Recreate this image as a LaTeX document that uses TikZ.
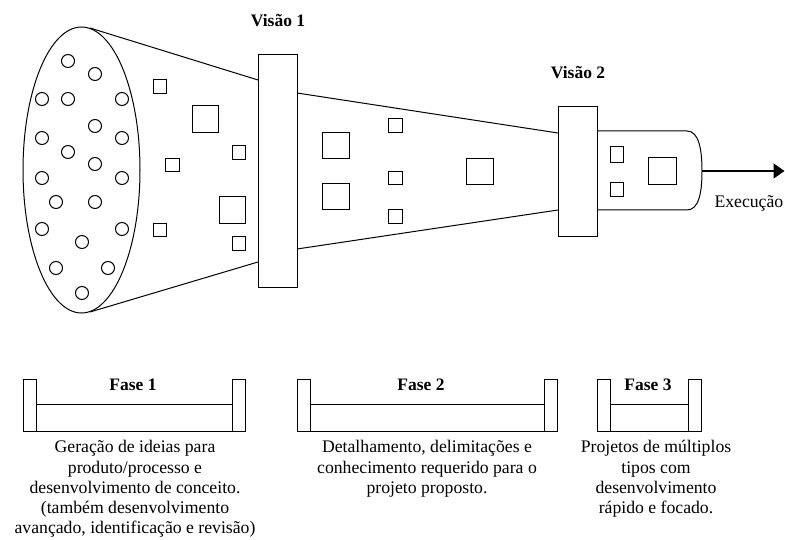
\documentclass[tikz,border=0pt]{standalone}
\usepackage{fontspec}
\setmainfont{Liberation Serif}
\usetikzlibrary{arrows.meta,shapes.geometric}
\begin{document}
\begin{tikzpicture}[x=1pt,y=-1pt,line width=1pt,
  idea/.style={circle,draw,minimum size=13pt,inner sep=0pt},
  sq/.style={rectangle,draw,minimum size=13.5pt,inner sep=0pt},
  bigsq/.style={rectangle,draw,minimum size=26.5pt,inner sep=0pt},
  gate/.style={rectangle,draw,minimum width=39pt,inner sep=0pt},
  post/.style={rectangle,draw,minimum width=13pt,minimum height=52pt,inner sep=0pt},
  phasebar/.style={rectangle,draw,minimum height=27pt,inner sep=0pt},
  ttl/.style={font=\bfseries\fontsize{17.5}{20}\selectfont,inner sep=0pt},
  desc/.style={font=\fontsize{17.7}{20.3}\selectfont,align=center,inner sep=0pt},
  cone/.style={draw,line width=1pt}]
\useasboundingbox (0,0) rectangle (785,540);
% mouth of the funnel
\node[ellipse,draw,minimum width=117pt,minimum height=286pt,inner sep=0pt] (mouth) at (81.5,170) {};
% gates
\node[gate,minimum height=233pt] (v1) at (277.5,171.5) {};
\node[gate,minimum height=130pt] (v2) at (577.5,172) {};
% cone lines
\coordinate (m1) at (90,28);
\coordinate (m2) at (90,312);
\coordinate (g1a) at (258,80);
\coordinate (g1b) at (258,262);
\coordinate (g1c) at (297,93);
\coordinate (g1d) at (297,249);
\coordinate (g2a) at (558,133);
\coordinate (g2b) at (558,210);
\draw[cone] (m1) -- (g1a);
\draw[cone] (m2) -- (g1b);
\draw[cone] (g1c) -- (g2a);
\draw[cone] (g1d) -- (g2b);
% tube
\coordinate (t1) at (597,131);
\coordinate (t2) at (597,210);
\coordinate (tip) at (702,171);
\draw[cone] (t1) -- (687,131) .. controls (699,131) and (702,150) .. (tip)
  .. controls (702,192) and (699,210) .. (687,210) -- (t2);
\coordinate (out) at (784.5,171);
\draw[cone,line width=1.5pt,-{Triangle[length=11pt,width=15pt]}] (tip) -- (out);
% labels
\node[ttl,anchor=base] (lv1) at (278,27) {Visão 1};
\node[ttl,anchor=base] (lv2) at (578,79) {Visão 2};
\node[desc,anchor=base west] (lex) at (714,208) {Execução};
% ideas (circles)
\foreach \p [count=\i] in {(68,61),(95,74),(42,99),(68,99),(122,99),(95,126),(42,138),(122,138),(68,152),(95,164),(42,178),(122,178),(56,202),(95,202),(42,229),(122,229),(82,242),(56,268),(108,268),(82,293)}
  \node[idea] (c\i) at \p {};
% squares in first cone
\node[sq] (s1) at (160,86.5) {};
\node[bigsq] (s2) at (205.5,119) {};
\node[sq] (s3) at (239,152.5) {};
\node[sq] (s4) at (172.5,165) {};
\node[bigsq] (s5) at (232.5,210) {};
\node[sq] (s6) at (160,230) {};
\node[sq] (s7) at (239,243.5) {};
% squares in second cone
\node[bigsq] (s8) at (336,145.5) {};
\node[bigsq] (s9) at (336,196.5) {};
\node[sq] (s10) at (395.5,125.5) {};
\node[sq] (s11) at (395.5,178) {};
\node[sq] (s12) at (395.5,216.5) {};
\node[bigsq] (s13) at (480,171.5) {};
% squares in tube
\node[sq,minimum height=16pt] (s14) at (617,154.5) {};
\node[sq,minimum height=14pt] (s15) at (617,190) {};
\node[bigsq,minimum width=28pt] (s16) at (662,171) {};
% phase 1
\node[phasebar,minimum width=196pt] (b1) at (134,417.5) {};
\node[post] (p1l) at (29.5,405) {};
\node[post] (p1r) at (239,405) {};
\node[ttl,anchor=base] (f1) at (133,390) {Fase 1};
\node[desc,anchor=north] (d1) at (135,440) {Geração de ideias para\\produto/processo e\\desenvolvimento de conceito.\\(também desenvolvimento\\avançado, identificação e revisão)};
% phase 2
\node[phasebar,minimum width=234pt] (b2) at (427,417.5) {};
\node[post] (p2l) at (303.5,405) {};
\node[post] (p2r) at (550.5,405) {};
\node[ttl,anchor=base] (f2) at (421,390) {Fase 2};
\node[desc,anchor=north] (d2) at (427,440) {Detalhamento, delimitações e\\conhecimento requerido para o\\projeto proposto.};
% phase 3
\node[phasebar,minimum width=78pt] (b3) at (649,417.5) {};
\node[post] (p3l) at (603.5,405) {};
\node[post] (p3r) at (694.5,405) {};
\node[ttl,anchor=base] (f3) at (648,390) {Fase 3};
\node[desc,anchor=north] (d3) at (656,440) {Projetos de múltiplos\\tipos com\\desenvolvimento\\rápido e focado.};
\end{tikzpicture}
\end{document}
